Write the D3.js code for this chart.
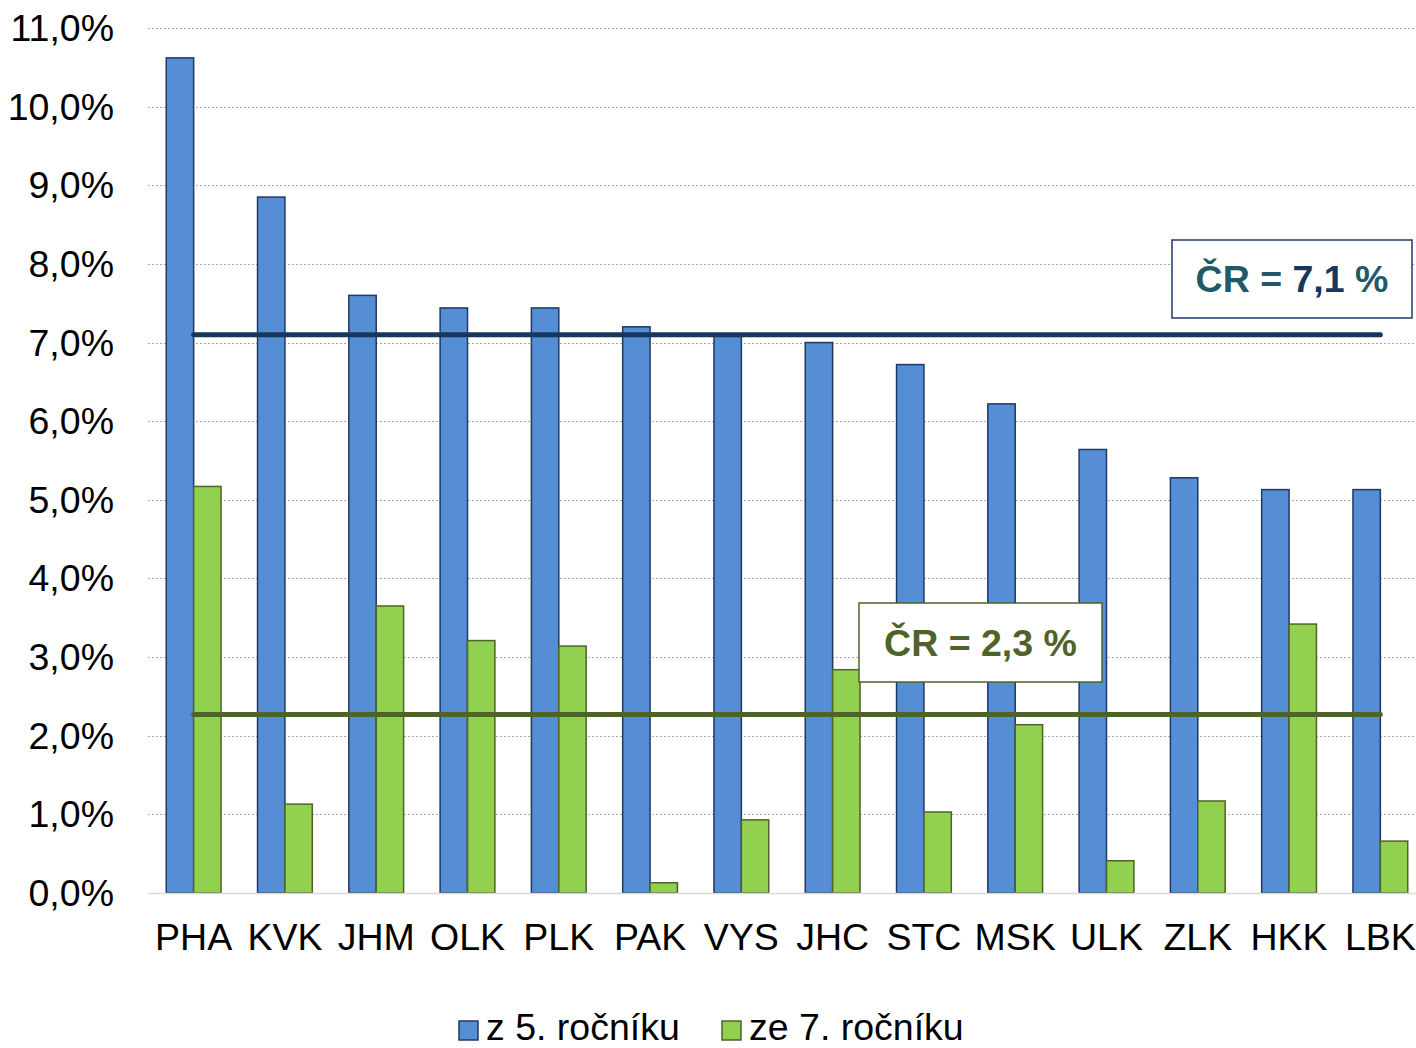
<!DOCTYPE html>
<html lang="cs">
<head>
<meta charset="UTF-8">
<title>Podíl žáků – kraje</title>
<style>
  html, body { margin: 0; padding: 0; background: #fff; }
  svg { display: block; font-family: "Liberation Sans", Arial, sans-serif; }
  .grid line { stroke: #a6a6a6; stroke-width: 1; stroke-dasharray: 2 2; }
  .ytick text, .xtick text, .legend text { fill: #000; font-size: 37.5px; }
</style>
</head>
<body>
<svg id="chart"></svg>
<script src="https://cdnjs.cloudflare.com/ajax/libs/d3/7.8.5/d3.min.js"></script>
<script>
// data
const regions = ["PHA", "KVK", "JHM", "OLK", "PLK", "PAK", "VYS", "JHC", "STC", "MSK", "ULK", "ZLK", "HKK", "LBK"];
const grade5 = [10.62, 8.85, 7.60, 7.44, 7.44, 7.20, 7.08, 7.00, 6.72, 6.22, 5.64, 5.28, 5.13, 5.13];
const grade7 = [5.17, 1.13, 3.65, 3.21, 3.14, 0.13, 0.93, 2.84, 1.03, 2.14, 0.41, 1.17, 3.42, 0.66];
const seriesNames = ["z 5. ročníku", "ze 7. ročníku"];
const crAverages = [7.1, 2.27];
const yTicks = [0, 1, 2, 3, 4, 5, 6, 7, 8, 9, 10, 11];

const W = 1416, H = 1048;
const margin = { top: 28, bottom: 155, left: 148 };
const colors = ["#558ed5", "#92d050"];
const strokes = ["#1f3864", "#4f6228"];

const svg = d3.select("#chart").attr("width", W).attr("height", H);

// poslední pásmo přesahuje okraj obrázku jako v originálu
const x = d3.scaleBand().domain(regions).range([margin.left, 1426]).paddingInner(0.4).paddingOuter(0.2);
const xs = d3.scaleBand().domain([0, 1]).range([0, x.bandwidth()]);
const y = d3.scaleLinear().domain([0, 11]).range([H - margin.bottom, margin.top]);

const fmt = v => d3.format(".1f")(v).replace(".", ",");

// mřížka
const grid = svg.append("g").attr("class", "grid");
grid.selectAll("line").data(yTicks.filter(d => d > 0)).join("line")
  .attr("x1", margin.left).attr("x2", W)
  .attr("y1", d => Math.round(y(d)) + 0.5).attr("y2", d => Math.round(y(d)) + 0.5);

// popisky osy Y
svg.append("g").attr("class", "ytick")
  .selectAll("text").data(yTicks).join("text")
  .attr("x", 114).attr("y", d => y(d) + 13)
  .attr("text-anchor", "end")
  .text(d => fmt(d) + "%");

// sloupce
const groups = svg.append("g").selectAll("g").data(regions).join("g")
  .attr("transform", d => `translate(${x(d)},0)`);

[grade5, grade7].forEach((vals, s) => {
  groups.append("rect")
    .attr("x", xs(s)).attr("width", xs.bandwidth())
    .attr("y", (d, i) => y(vals[i]))
    .attr("height", (d, i) => y(0) - y(vals[i]))
    .attr("fill", colors[s])
    .attr("stroke", strokes[s]).attr("stroke-width", 1.5);
});

// osa X
svg.append("line")
  .attr("x1", margin.left).attr("x2", W)
  .attr("y1", y(0) + 0.5).attr("y2", y(0) + 0.5)
  .attr("stroke", "#d9d9d9").attr("stroke-width", 1.5);

svg.append("g").attr("class", "xtick")
  .selectAll("text").data(regions).join("text")
  .attr("x", d => x(d) + x.bandwidth() / 2).attr("y", 950)
  .attr("text-anchor", "middle")
  .text(d => d);

// průměr ČR
const lineColors = ["#17375e", "#4f6228"];
const x0 = x(regions[0]) + x.bandwidth() / 2;
const x1 = x(regions[regions.length - 1]) + x.bandwidth() / 2;
crAverages.forEach((v, i) => {
  svg.append("line")
    .attr("x1", x0).attr("x2", x1)
    .attr("y1", y(v)).attr("y2", y(v))
    .attr("stroke", lineColors[i]).attr("stroke-width", 5)
    .attr("stroke-linecap", "round");
});

// popisky průměrů
const boxes = [
  { x: 1172, y: 240, w: 240, h: 78, stroke: "#1f3864" },
  { x: 859, y: 603, w: 243, h: 79, stroke: "#4f6228" }
];
boxes.forEach((b, i) => {
  svg.append("rect")
    .attr("x", b.x).attr("y", b.y).attr("width", b.w).attr("height", b.h)
    .attr("fill", "#fff").attr("stroke", b.stroke).attr("stroke-width", 1.5);
  const t = svg.append("text")
    .attr("x", b.x + b.w / 2).attr("y", b.y + b.h / 2 + 13)
    .attr("text-anchor", "middle")
    .attr("font-size", 37.5).attr("font-weight", "bold");
  if (i === 0) {
    t.append("tspan").attr("fill", "#215968").text("ČR = ");
    t.append("tspan").attr("fill", "#17375e").text(fmt(crAverages[i]));
    t.append("tspan").attr("fill", "#215968").text(" %");
  } else {
    t.attr("fill", "#4f6228").text("ČR = " + fmt(crAverages[i]) + " %");
  }
});

// legenda
const legend = svg.append("g").attr("class", "legend");
const legX = [459, 722];
seriesNames.forEach((n, i) => {
  legend.append("rect")
    .attr("x", legX[i]).attr("y", 1021).attr("width", 19).attr("height", 19)
    .attr("fill", colors[i]).attr("stroke", strokes[i]).attr("stroke-width", 1.5);
  legend.append("text")
    .attr("x", legX[i] + 27).attr("y", 1040)
    .text(n);
});
</script>
</body>
</html>
